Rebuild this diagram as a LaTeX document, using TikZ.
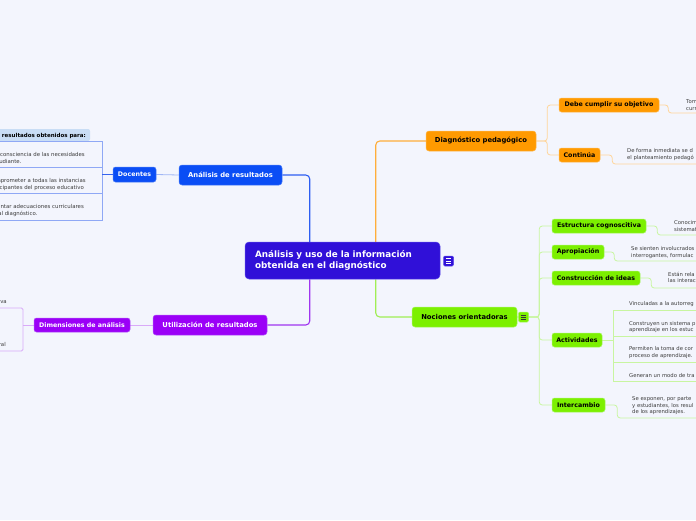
\documentclass[tikz,border=0pt]{standalone}
\usepackage{fontspec}
\setmainfont{DejaVu Sans}
\usetikzlibrary{calc}
\definecolor{bg}{HTML}{F3F5FD}
\definecolor{centralc}{HTML}{3010D8}
\definecolor{centralb}{HTML}{5A46E8}
\definecolor{blueN}{HTML}{0A4DF5}
\definecolor{blueB}{HTML}{4A7CF8}
\definecolor{blueL}{HTML}{2D5EF2}
\definecolor{blueS}{HTML}{A0B6F5}
\definecolor{blueD}{HTML}{3563EE}
\definecolor{boxline}{HTML}{8FA8F5}
\definecolor{hdrc}{HTML}{C9DDF5}
\definecolor{purpleN}{HTML}{9B00F7}
\definecolor{purpleB}{HTML}{B050F8}
\definecolor{purpleL}{HTML}{A035F0}
\definecolor{purpleS}{HTML}{D9AAF8}
\definecolor{orangeN}{HTML}{FF9A00}
\definecolor{orangeB}{HTML}{FFB84D}
\definecolor{orangeL}{HTML}{FFAE3A}
\definecolor{orangeS}{HTML}{FFD59A}
\definecolor{greenN}{HTML}{7CF000}
\definecolor{greenB}{HTML}{A5F560}
\definecolor{greenL}{HTML}{A0EE55}
\definecolor{greenS}{HTML}{C8F5A0}
\definecolor{notec}{HTML}{3C3C3C}
\pgfdeclarelayer{background}
\pgfsetlayers{background,main}
\tikzset{
  centralbox/.style={fill=centralc, draw=centralb, line width=0.5pt, rounded corners=4pt, text=white,
    font=\bfseries\fontsize{8.8}{11.5}\selectfont, align=left, text width=175pt, inner xsep=10pt,
    inner ysep=0pt, minimum width=195pt, minimum height=37pt},
  topicbox/.style={rounded corners=3pt, minimum height=20pt, inner sep=0pt, line width=0.5pt,
    font=\bfseries\fontsize{6.8}{8}\selectfont},
  subbox/.style={rounded corners=2.5pt, minimum height=14pt, inner sep=0pt, line width=0.5pt,
    font=\bfseries\fontsize{6.3}{7.5}\selectfont},
  bluebox/.style={fill=blueN, draw=blueB, text=white},
  purplebox/.style={fill=purpleN, draw=purpleB, text=white},
  orangebox/.style={fill=orangeN, draw=orangeB, text=black},
  greenbox/.style={fill=greenN, draw=greenB, text=black},
  note/.style={font=\fontsize{5.3}{6.5}\selectfont, inner sep=0pt, align=left, anchor=north west, text=notec},
  notel/.style={font=\fontsize{5.4}{6.5}\selectfont, inner sep=0pt, anchor=base east, text=notec},
  mainlink/.style={line width=1.1pt, rounded corners=4pt},
  sublink/.style={line width=0.8pt, rounded corners=3pt},
  iconbox/.style={rounded corners=1.2pt, minimum size=10pt, inner sep=0pt, line width=0.5pt},
}
\begin{document}
\begin{tikzpicture}[x=1pt,y=-1pt]
\useasboundingbox (0,0) rectangle (696,520);
\clip (0,0) rectangle (696,520);

% central
\node[centralbox] (central) at (342.5,260.5) {Análisis y uso de la información\\obtenida en el diagnóstico};
\node[iconbox, fill=centralc, draw=centralb] (cicon) at (448.5,261) {};
\foreach \dy in {-2.2,0,2.2} \draw[white, line width=0.7pt] ($(cicon.center)+(-2.7,\dy)$) -- ++(5.4,0);

% blue branch
\node[topicbox, bluebox, minimum width=103pt] (analisis) at (230.5,175) {Análisis de resultados};
\node[subbox, bluebox, minimum width=43pt, minimum height=15pt] (docentes) at (134.5,174.5) {Docentes};

% purple branch
\node[topicbox, purplebox, minimum width=114pt] (util) at (210,325) {Utilización de resultados};
\node[subbox, purplebox, minimum width=96pt] (dimen) at (82,325) {Dimensiones de análisis};

% orange branch
\node[topicbox, orangebox, minimum width=110pt] (diag) at (481,141) {Diagnóstico pedagógico};
\node[subbox, orangebox, minimum width=100pt] (debe) at (609,105) {Debe cumplir su objetivo};
\node[subbox, orangebox, minimum width=41pt] (cont) at (579.5,155) {Continúa};

% green branch
\node[topicbox, greenbox, minimum width=105pt] (noc) at (464.5,317) {Nociones orientadoras};
\node[iconbox, fill=greenN, draw=greenB] (gicon) at (523.5,317) {};
\foreach \dy in {-2.2,0,2.2} \draw[black!80, line width=0.6pt] ($(gicon.center)+(-2.7,\dy)$) -- ++(5.4,0);
\node[subbox, greenbox, minimum width=94pt] (estr) at (599,226) {Estructura cognoscitiva};
\node[subbox, greenbox, minimum width=52pt] (apro) at (578,252) {Apropiación};
\node[subbox, greenbox, minimum width=88pt] (cons) at (596,278) {Construcción de ideas};
\node[subbox, greenbox, minimum width=50pt] (act) at (577,340) {Actividades};
\node[subbox, greenbox, minimum width=53pt] (inter) at (578.5,405) {Intercambio};

% left box group (Docentes)
\coordinate (bR1) at (102,141);
\coordinate (bR2) at (102,167);
\coordinate (bR3) at (102,193);
\coordinate (bR4) at (102,220);
\node[notel, font=\bfseries\fontsize{5.5}{6.5}\selectfont, text=black] (hd) at (86,137.7) {resultados obtenidos para:};
\node[notel] (l1a) at (85,156.8) {consciencia de las necesidades};
\node[notel] (l1b) at (21.7,163.9) {estudiante.};
\node[notel] (l2a) at (86,182.6) {Comprometer a todas las instancias};
\node[notel] (l2b) at (84,189.3) {participantes del proceso educativo};
\node[notel] (l3a) at (84,208.9) {Implementar adecuaciones curriculares};
\node[notel] (l3b) at (37.7,215.9) {al diagnóstico.};

% left bracket (Dimensiones)
\coordinate (bt) at (23,308);
\coordinate (bb) at (23,351);
\node[notel] (lv) at (7,303.6) {va};
\node[notel] (lr) at (6,346.6) {ral};

% right notes
\node[note] (n1) at (686,99.5) {Tom\\curr};
\node[note] (n2) at (627,148.3) {De forma inmediata se d\\el planteamiento pedagó};
\node[note] (n3) at (674,220.6) {Conocim\\sistemat};
\node[note] (n4) at (631,246.6) {Se sienten involucrados\\interrogantes, formulac};
\node[note] (n5) at (668,272) {Están rela\\las interac};
\node[note] (n6) at (629,301.6) {Vinculadas a la autorreg};
\node[note] (n7) at (629,321) {Construyen un sistema p\\aprendizaje en los estuc};
\node[note] (n8) at (629,346.6) {Permiten la toma de cor\\proceso de aprendizaje.};
\node[note] (n9) at (629,373.6) {Generan un modo de tra};
\node[note] (n10) at (632,396.6) {Se exponen, por parte\\y estudiantes, los resul\\de los aprendizajes.};

\coordinate (at) at (613,310);
\coordinate (ab) at (613,381);

\begin{pgfonlayer}{background}
\fill[bg] (0,0) rectangle (696,520);
% main links
\draw[mainlink, blueL] ($(central.north west)+(65,0)$) |- (analisis.east);
\draw[mainlink, orangeL] ($(central.north west)+(131,0)$) |- (diag.west);
\draw[mainlink, purpleL] ($(central.south west)+(65,0)$) |- (util.east);
\draw[mainlink, greenL] ($(central.south west)+(131,0)$) |- (noc.west);
% blue sub
\draw[sublink, blueS] (analisis.west) -- (docentes.east);
\fill[hdrc, rounded corners=2pt] (-10,129) rectangle (90,141);
\draw[boxline, line width=0.8pt] (-2,141) -- (bR1) -- (bR4) -- (-2,220);
\draw[boxline, line width=0.8pt] (-2,167) -- (bR2);
\draw[boxline, line width=0.8pt] (-2,193) -- (bR3);
\draw[sublink, blueD] (docentes.west) -- (docentes.west -| bR1);
% purple sub
\draw[sublink, purpleS] (util.west) -- (dimen.east);
\draw[sublink, purpleS] (dimen.west) -- (dimen.west -| bt);
\draw[line width=0.8pt, purpleS, rounded corners=1.5pt] (-2,308) -- (bt) -- (bb) -- (-2,351);
% orange sub
\draw[sublink, orangeS] (diag.east) -- ++(11,0) |- (debe.west);
\draw[sublink, orangeS] (diag.east) -- ++(11,0) |- (cont.west);
\draw[sublink, orangeS] (debe.east) -- ++(9,0) |- (700,113);
\draw[sublink, orangeS] (cont.east) -- ++(12,0) |- (700,164);
% green sub
\foreach \n in {estr,apro,cons,act,inter}
  \draw[sublink, greenS] (noc.east) -- ++(22,0) |- (\n.west);
\draw[sublink, greenS] (estr.east) -- ++(11,0) |- (700,235);
\draw[sublink, greenS] (apro.east) -- ++(10,0) |- (700,261);
\draw[sublink, greenS] (cons.east) -- ++(11,0) |- (700,288);
\draw[sublink, greenS] (inter.east) -- ++(12,0) |- (700,418);
\draw[sublink, greenS] (act.east) -- (act.east -| at);
\draw[line width=0.8pt, greenS] (700,310) -- (at) -- (ab) -- (700,381);
\draw[line width=0.8pt, greenS] (613,336) -- (700,336);
\draw[line width=0.8pt, greenS] (613,362) -- (700,362);
\end{pgfonlayer}
\end{tikzpicture}
\end{document}
